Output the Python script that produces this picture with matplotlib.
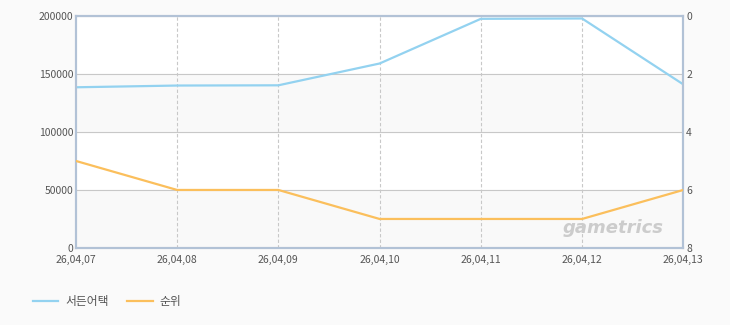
import matplotlib.pyplot as plt

dates = ["26,04,07", "26,04,08", "26,04,09", "26,04,10", "26,04,11", "26,04,12", "26,04,13"]
users = [138500, 140000, 140200, 159000, 197500, 197800, 141000]
rank = [5, 6, 6, 7, 7, 7, 6]

plt.rcParams['font.family'] = ['Noto Sans CJK KR', 'DejaVu Sans']

fig = plt.figure(figsize=(7.3, 3.25), dpi=100, facecolor='#fafafa')
ax = fig.add_axes([0.104, 0.237, 0.832, 0.714])
ax.set_facecolor('white')

x = list(range(len(dates)))

# alternating bands
for lo in (0, 100000):
    ax.axhspan(lo, lo + 50000, color='#f9f9f9', zorder=0)

ax.set_xlim(0, len(dates) - 1)
ax.set_ylim(0, 200000)
ax.set_yticks([0, 50000, 100000, 150000, 200000])
ax.set_xticks(x)
ax.set_xticklabels(dates)
ax.grid(axis='y', color='#c8c8c8', linewidth=0.8)
for xi in x[1:-1]:
    ax.axvline(xi, color='#c8c8c8', linestyle=(0, (3, 2)), linewidth=0.8, zorder=1)

l1, = ax.plot(x, users, color='#93d2f0', linewidth=1.6, zorder=3, label='서든어택')

ax2 = ax.twinx()
ax2.set_ylim(8, 0)
ax2.set_yticks([0, 2, 4, 6, 8])
l2, = ax2.plot(x, rank, color='#fbbf5c', linewidth=1.6, zorder=3, label='순위')

for a in (ax, ax2):
    for s in a.spines.values():
        s.set_color('#b2c2d6')
        s.set_linewidth(1.5)
    a.tick_params(length=0, labelsize=7.5, colors='#555555', pad=2)
ax.tick_params(axis='x', pad=5)

ax.text(0.885, 0.085, 'gametrics', transform=ax.transAxes, ha='center', va='center',
        fontsize=13, fontweight='bold', style='italic', color='#cccccc',
        family='DejaVu Sans', zorder=2)

fig.legend(handles=[l1, l2], loc='lower left', bbox_to_anchor=(0.03, 0.02), ncol=2,
           frameon=False, fontsize=8.5, handlelength=2.2, handletextpad=0.6,
           columnspacing=1.5, labelcolor='#555555')

fig.savefig('out.png', dpi=100, facecolor=fig.get_facecolor())
